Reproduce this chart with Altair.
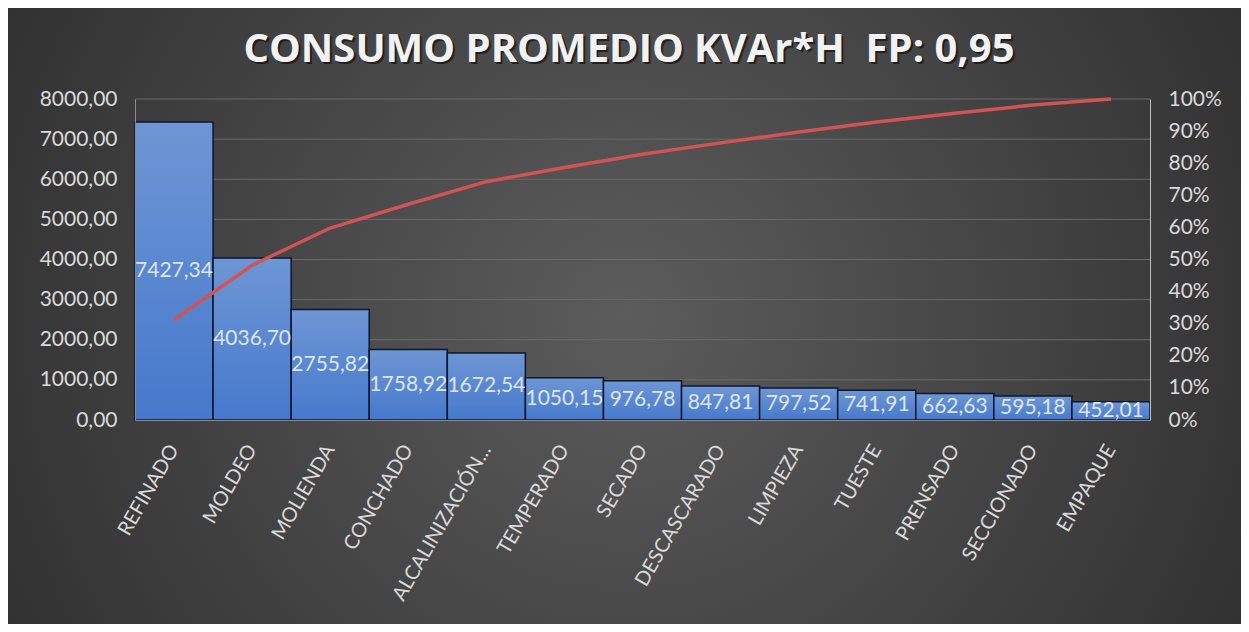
import altair as alt
import pandas as pd

categories = ["REFINADO", "MOLDEO", "MOLIENDA", "CONCHADO", "ALCALINIZACIÓN...",
              "TEMPERADO", "SECADO", "DESCASCARADO", "LIMPIEZA", "TUESTE",
              "PRENSADO", "SECCIONADO", "EMPAQUE"]
values = [7427.34, 4036.70, 2755.82, 1758.92, 1672.54, 1050.15, 976.78,
          847.81, 797.52, 741.91, 662.63, 595.18, 452.01]
left_ticks = [0, 1000, 2000, 3000, 4000, 5000, 6000, 7000, 8000]
right_ticks = [0, 0.1, 0.2, 0.3, 0.4, 0.5, 0.6, 0.7, 0.8, 0.9, 1.0]
title_text = "CONSUMO PROMEDIO KVAr*H\u00a0\u00a0FP: 0,95"

W, H = 1015, 321
PL, PT, PR, PB = 127, 91, 91, 204

df = pd.DataFrame({"proceso": categories, "valor": values, "orden": list(range(len(categories)))})
grid_df = pd.DataFrame({"v": left_ticks[1:]})

FONT = "Lato"
LABEL_COLOR = "#d9d9d9"

x_enc = alt.X(
    "proceso:N", sort=categories, title=None,
    scale=alt.Scale(paddingInner=0, paddingOuter=0),
    axis=alt.Axis(labelAngle=-60, labelAlign="right", labelBaseline="middle",
                  labelPadding=26, labelFont=FONT, labelFontSize=20,
                  labelColor=LABEL_COLOR, ticks=False, domainColor="#8c8c8c",
                  labelLimit=300, grid=False, zindex=1),
)

base = (
    alt.Chart(df)
    .transform_window(cum="sum(valor)", sort=[alt.SortField("orden")])
    .transform_joinaggregate(total="sum(valor)")
    .transform_calculate(
        pct="datum.cum / datum.total",
        mid="datum.valor / 2",
        etiqueta="replace(format(datum.valor, '.2f'), '.', ',')",
    )
)

left_scale = alt.Scale(domain=[0, 8000], nice=False)

grid_rules = alt.Chart(grid_df).mark_rule(color="#6a6a6a", strokeWidth=1).encode(
    x=alt.value(0), x2=alt.value(W),
    y=alt.Y("v:Q", axis=None, scale=left_scale),
)

bar_fill = {
    "gradient": "linear", "x1": 0, "y1": 0, "x2": 0, "y2": 1,
    "stops": [{"offset": 0, "color": "#6e96d4"}, {"offset": 1, "color": "#4679cc"}],
}

bars = base.mark_bar(fill=bar_fill, stroke="#0b1630", strokeWidth=1.5).encode(
    x=x_enc,
    y=alt.Y("valor:Q", title=None, scale=left_scale,
            axis=alt.Axis(orient="left", values=left_ticks,
                          labelExpr="replace(format(datum.value, '.2f'), '.', ',')",
                          labelFont=FONT, labelFontSize=21, labelColor=LABEL_COLOR,
                          labelPadding=18, ticks=False, domainColor="#8c8c8c",
                          grid=False, zindex=1)),
)

texts = base.mark_text(font=FONT, fontSize=21, color="#dce6f2", baseline="middle").encode(
    x=x_enc,
    y=alt.Y("mid:Q", axis=None, scale=left_scale),
    text="etiqueta:N",
)

line = base.mark_line(color="#d05456", strokeWidth=3.5).encode(
    x=x_enc,
    y=alt.Y("pct:Q", title=None,
            scale=alt.Scale(domain=[0, 1], nice=False),
            axis=alt.Axis(orient="right", values=right_ticks, format=".0%",
                          labelFont=FONT, labelFontSize=21, labelColor=LABEL_COLOR,
                          labelPadding=18, ticks=False, domainColor="#bfbfbf",
                          grid=False, zindex=1)),
)

bg_fill = {
    "gradient": "radial", "x1": 0.5, "y1": 0.5, "r1": 0,
    "x2": 0.5, "y2": 0.5, "r2": 0.7,
    "stops": [{"offset": 0, "color": "#5c5c5c"}, {"offset": 1, "color": "#272727"}],
}

bg = alt.Chart(alt.Data(values=[{}])).mark_rect(fill=bg_fill).encode(
    x=alt.value(-PL), x2=alt.value(W + PR), y=alt.value(-PT), y2=alt.value(H + PB)
)

title_df = alt.Data(values=[{"t": title_text}])
TFONT = "Open Sans"
title_shadow = alt.Chart(title_df).mark_text(
    font=TFONT, fontSize=40, fontWeight="bold", color="#111111", opacity=0.7,
    align="center", baseline="alphabetic",
).encode(text="t:N", x=alt.value(496), y=alt.value(-35))
title_mark = alt.Chart(title_df).mark_text(
    font=TFONT, fontSize=40, fontWeight="bold", color="#f2f2f2",
    align="center", baseline="alphabetic",
).encode(text="t:N", x=alt.value(494), y=alt.value(-37))

chart = (
    alt.layer(bg, title_shadow, title_mark, grid_rules, bars, texts, line)
    .resolve_scale(y="independent")
    .properties(width=W, height=H,
                autosize=alt.AutoSizeParams(type="none"),
                padding={"left": PL, "top": PT, "right": PR, "bottom": PB},
                background="#2a2a2a")
    .configure_view(stroke=None)
)

chart.save("out.html", embed_options={"renderer": "svg", "actions": False})
